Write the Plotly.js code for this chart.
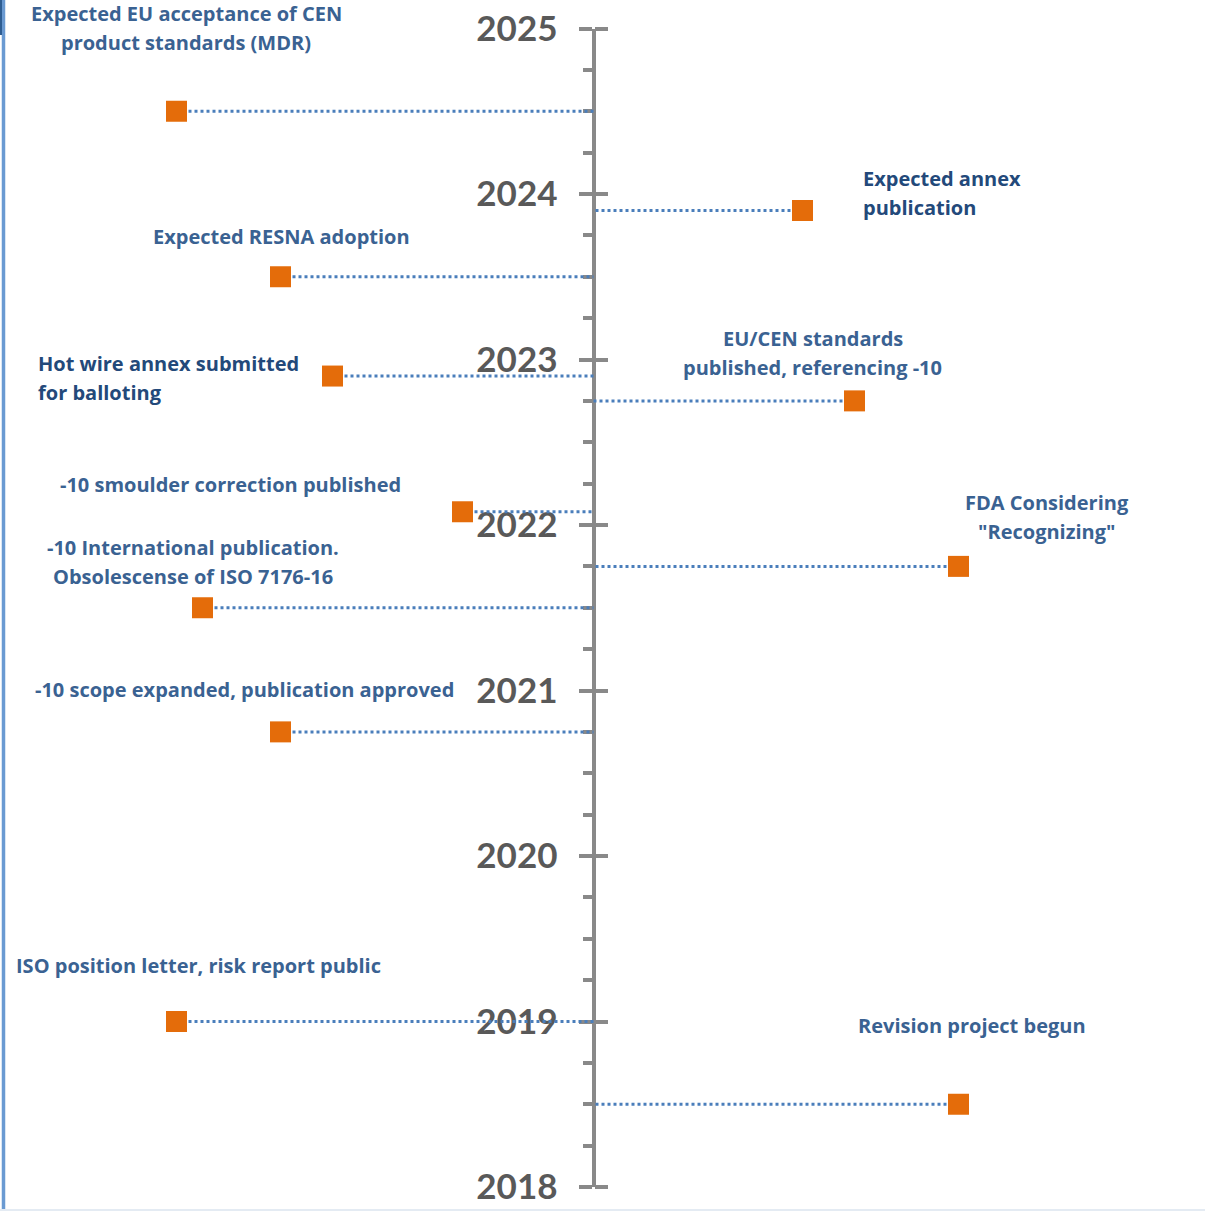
<!DOCTYPE html>
<html>
<head>
<meta charset="utf-8">
<script src="https://cdn.plot.ly/plotly-3.0.1.min.js"></script>
<style>
  html, body { margin: 0; padding: 0; background: #ffffff; }
  #chart { width: 1205px; height: 1211px; }
</style>
</head>
<body>
<div id="chart"></div>
<script>
// Milestones of the standard revision (decimal years)
const eventLabels = [
  'Expected EU acceptance of CEN<br>product standards (MDR)',
  'Expected annex<br>publication',
  'Expected RESNA adoption',
  'Hot wire annex submitted<br>for balloting',
  'EU/CEN standards<br>published, referencing -10',
  '-10 smoulder correction published',
  'FDA Considering<br>"Recognizing"',
  '-10 International publication.<br>Obsolescense of ISO 7176-16',
  '-10 scope expanded, publication approved',
  'ISO position letter, risk report public',
  'Revision project begun'
];
const eventDates = [2024.5, 2023.9, 2023.5, 2022.9, 2022.75, 2022.08, 2021.75, 2021.5, 2020.75, 2019.0, 2018.5];

const yearTicks  = [2018, 2019, 2020, 2021, 2022, 2023, 2024, 2025];
const yearLabels = ['2018', '2019', '2020', '2021', '2022', '2023', '2024', '2025'];

// ---- placement (timeline spine at x = 0, one x unit = 100 px) ----
const lane        = [-4.17, 2.09, -3.13, -2.61, 2.61, -1.31, 3.65, -3.91, -3.13, -4.17, 3.65];
const labelX      = [-4.075, 2.67, -3.125, -5.575, 2.19, -3.635, 4.53, -4.005, -3.49, -3.95, 3.78];
const labelAnchor = ['center', 'left', 'center', 'left', 'center', 'center', 'center', 'center', 'center', 'center', 'center'];
const labelShift  = [83.5, 18, 40, -2, 48, 27.5, 49.5, 45.5, 42.5, 56, 79];
const labelDark   = [false, true, false, true, false, false, false, false, false, false, false];

const W = 1205, H = 1211;
const spineX = 593.5;           // px
const spineTop = 28.5, spineBottom = 1187;
const lineGap = 29;             // px between label lines

const axisGrey = '#898989';
const dotBlue = '#4A7EBB';
const markerOrange = '#E46C0A';
const textBlue = '#3A6292';
const textNavy = '#23497A';

const traces = [];

// dotted connectors from each milestone to the spine
eventDates.forEach((d, i) => {
  traces.push({
    type: 'scatter', mode: 'lines',
    x: [lane[i], 0], y: [d, d],
    line: { color: dotBlue, width: 3, dash: 'dot' },
    hoverinfo: 'skip', showlegend: false
  });
});

// milestone markers
traces.push({
  type: 'scatter', mode: 'markers',
  x: lane, y: eventDates,
  marker: { symbol: 'square', size: 21, color: markerOrange, line: { width: 0 } },
  hoverinfo: 'skip', showlegend: false
});

// mirror axis carrying only the right-hand half of the year ticks
traces.push({
  type: 'scatter', mode: 'markers', x: [0], y: [2018], yaxis: 'y2',
  marker: { size: 0.1, opacity: 0 }, hoverinfo: 'skip', showlegend: false
});

// labels, one annotation per text line
const annotations = [];
eventLabels.forEach((label, i) => {
  const lines = label.split('<br>');
  const n = lines.length;
  lines.forEach((t, k) => {
    annotations.push({
      xref: 'x', yref: 'y', x: labelX[i], y: eventDates[i],
      text: t, showarrow: false,
      xanchor: labelAnchor[i], yanchor: 'middle',
      yshift: labelShift[i] + ((n - 1) / 2 - k) * lineGap,
      font: { family: 'Open Sans', size: 20, weight: 700, color: labelDark[i] ? textNavy : textBlue }
    });
  });
});

const yDomain = [(H - spineBottom) / H, (H - spineTop) / H];
const xUnitsLeft = spineX / 100, xUnitsRight = (W - spineX) / 100;

const layout = {
  width: W, height: H,
  margin: { l: 0, r: 0, t: 0, b: 0, pad: 0 },
  paper_bgcolor: '#ffffff', plot_bgcolor: 'rgba(0,0,0,0)',
  showlegend: false,
  xaxis: { range: [-xUnitsLeft, xUnitsRight], visible: false, fixedrange: true },
  yaxis: {
    range: [2018, 2025], domain: yDomain,
    anchor: 'free', position: spineX / W, side: 'left',
    showline: true, linecolor: axisGrey, linewidth: 4.5,
    tickmode: 'array', tickvals: yearTicks, ticktext: yearLabels,
    ticks: 'outside', ticklen: 13, tickwidth: 4, tickcolor: axisGrey,
    minor: { tickmode: 'linear', tick0: 2018, dtick: 0.25, ticks: 'outside', ticklen: 9, tickwidth: 4, tickcolor: axisGrey, showgrid: false },
    tickfont: { family: 'Lato', size: 35, weight: 700, color: '#595959' },
    ticklabelstandoff: 14,
    showgrid: false, zeroline: false, layer: 'below traces', fixedrange: true
  },
  yaxis2: {
    range: [2018, 2025], domain: yDomain, overlaying: 'y',
    anchor: 'free', position: spineX / W, side: 'right',
    showline: false, showticklabels: false,
    tickmode: 'array', tickvals: yearTicks,
    ticks: 'outside', ticklen: 13, tickwidth: 4, tickcolor: axisGrey,
    showgrid: false, zeroline: false, layer: 'below traces', fixedrange: true
  },
  annotations: annotations,
  shapes: [
    // slide frame on the left and bottom edges
    { type: 'line', xref: 'paper', yref: 'paper', x0: 3.5 / W, x1: 3.5 / W, y0: 0, y1: 1,
      line: { color: '#6A9AD2', width: 3.5 } },
    { type: 'rect', xref: 'paper', yref: 'paper', x0: 0, x1: 2 / W, y0: 1 - 35 / H, y1: 1,
      fillcolor: '#2E5D92', line: { width: 0 } },
    { type: 'line', xref: 'paper', yref: 'paper', x0: 0, x1: 1, y0: 1 / H, y1: 1 / H,
      line: { color: '#E4EBF3', width: 2 } }
  ]
};

Plotly.newPlot('chart', traces, layout, { displayModeBar: false, staticPlot: true });
</script>
</body>
</html>
